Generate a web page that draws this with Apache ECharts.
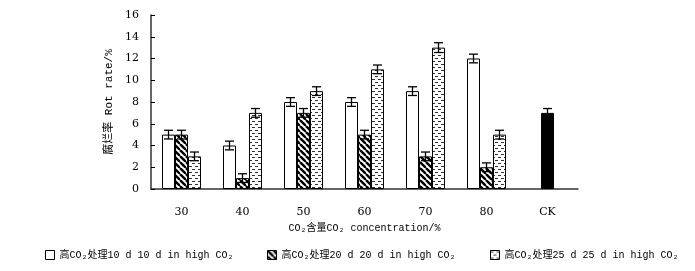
<!DOCTYPE html>
<html>
<head>
<meta charset="utf-8">
<script src="https://cdn.jsdelivr.net/npm/echarts@6/dist/echarts.min.js"></script>
<style>
html, body { margin: 0; padding: 0; background: #fff; }
#main { width: 695px; height: 271px; }
</style>
</head>
<body>
<div id="main"></div>
<script>
// 数据
var categories = ['30', '40', '50', '60', '70', '80', 'CK'];
var names = ['高CO₂处理10 d 10 d in high CO₂', '高CO₂处理20 d 20 d in high CO₂', '高CO₂处理25 d 25 d in high CO₂'];
var d10 = [5, 4, 8, 8, 9, 12, null];
var d20 = [5, 1, 7, 5, 3, 2, null];
var d25 = [3, 7, 9, 11, 13, 5, null];
var err10 = [0.4, 0.4, 0.4, 0.4, 0.4, 0.4, null];
var err20 = [0.4, 0.4, 0.4, 0.4, 0.4, 0.4, null];
var err25 = [0.4, 0.4, 0.4, 0.4, 0.45, 0.4, null];
var ckValue = 7;
var ckErr = 0.4;

var serif = 'DejaVu Serif, Liberation Serif, Noto Sans CJK SC';
var mono = 'Liberation Mono, DejaVu Sans Mono, Noto Sans CJK SC';

//填充图案
function hatch() {
    var c = document.createElement('canvas');
    c.width = 6; c.height = 6;
    var ctx = c.getContext('2d');
    ctx.fillStyle = '#fff';
    ctx.fillRect(0, 0, 6, 6);
    ctx.strokeStyle = '#000';
    ctx.lineWidth = 2.4;
    for (var k = -1; k <= 1; k++) {
        ctx.beginPath();
        ctx.moveTo(k * 6, 0);
        ctx.lineTo(k * 6 + 6, 6);
        ctx.stroke();
    }
    return c;
}
function dots() {
    var c = document.createElement('canvas');
    c.width = 6; c.height = 6;
    var ctx = c.getContext('2d');
    ctx.fillStyle = '#fff';
    ctx.fillRect(0, 0, 6, 6);
    ctx.fillStyle = '#333';
    ctx.fillRect(0, 1, 3, 1);
    ctx.fillRect(3, 4, 3, 1);
    return c;
}

var chart = echarts.init(document.getElementById('main'));
window.onresize = function() { chart.resize(); };

var barW = 13;
var fills = ['#fff', { image: hatch(), repeat: 'repeat' }, { image: dots(), repeat: 'repeat' }];
var values = [d10, d20.slice(), d25];
var errs = [err10, err20.slice(), err25];
// CK 放在中间系列的位置，黑色
values[1][6] = { value: ckValue, itemStyle: { color: '#000' } };
errs[1][6] = ckErr;

var series = [];
for (var i = 0; i < 3; i++) {
    series.push({
        name: names[i],
        type: 'bar',
        barWidth: barW,
        barGap: '0%',
        itemStyle: { color: fills[i], borderColor: '#000', borderWidth: 1 },
        data: values[i]
    });
}
for (var j = 0; j < 3; j++) {
    (function(idx) {
        var data = [];
        for (var k = 0; k < categories.length; k++) {
            var v = values[idx][k];
            if (v === null) continue;
            var val = typeof v === 'object' ? v.value : v;
            data.push([k, val, errs[idx][k]]);
        }
        series.push({
            type: 'custom',
            silent: true,
            z: 10,
            data: data,
            renderItem: function(params, api) {
                var dx = (idx - 1) * barW;
                var top = api.coord([api.value(0), api.value(1) + api.value(2)]);
                var bot = api.coord([api.value(0), api.value(1) - api.value(2)]);
                var x = top[0] + dx;
                var style = { stroke: '#000', lineWidth: 1.3 };
                return {
                    type: 'group',
                    children: [
                        { type: 'line', shape: { x1: x, y1: top[1], x2: x, y2: bot[1] }, style: style },
                        { type: 'line', shape: { x1: x - 4.5, y1: top[1], x2: x + 4.5, y2: top[1] }, style: style },
                        { type: 'line', shape: { x1: x - 4.5, y1: bot[1], x2: x + 4.5, y2: bot[1] }, style: style }
                    ]
                };
            }
        });
    })(j);
}

function legendAt(name, left) {
    return {
        data: [name],
        left: left,
        top: 245,
        itemWidth: 9,
        itemHeight: 9,
        itemGap: 5,
        icon: 'rect',
        itemStyle: { borderColor: '#000', borderWidth: 1 },
        textStyle: { fontFamily: mono, fontSize: 10, color: '#000' }
    };
}

chart.setOption({
    animation: false,
    backgroundColor: '#fff',
    grid: { left: 151, right: 117, top: 15, bottom: 82 },
    legend: [legendAt(names[0], 40), legendAt(names[1], 262), legendAt(names[2], 485)],
    xAxis: {
        type: 'category',
        data: categories,
        name: 'CO₂含量CO₂ concentration/%',
        nameLocation: 'middle',
        nameGap: 31,
        nameTextStyle: { fontFamily: mono, fontSize: 10, color: '#000' },
        axisLine: { lineStyle: { color: '#333', width: 1.5 } },
        axisTick: { inside: true, length: 4, lineStyle: { color: '#000' } },
        axisLabel: { margin: 18, fontFamily: serif, fontSize: 11, color: '#000' }
    },
    yAxis: {
        type: 'value',
        min: 0,
        max: 16,
        interval: 2,
        name: '腐烂率 Rot rate/%',
        nameLocation: 'middle',
        nameGap: 30,
        nameTextStyle: { fontFamily: mono, fontSize: 11, color: '#000' },
        axisLine: { show: true, lineStyle: { color: '#333', width: 1.5 } },
        axisTick: { show: true, inside: true, length: 4, lineStyle: { color: '#000' } },
        axisLabel: { margin: 12, fontFamily: serif, fontSize: 11, color: '#000' },
        splitLine: { show: false }
    },
    series: series
});
</script>
</body>
</html>
